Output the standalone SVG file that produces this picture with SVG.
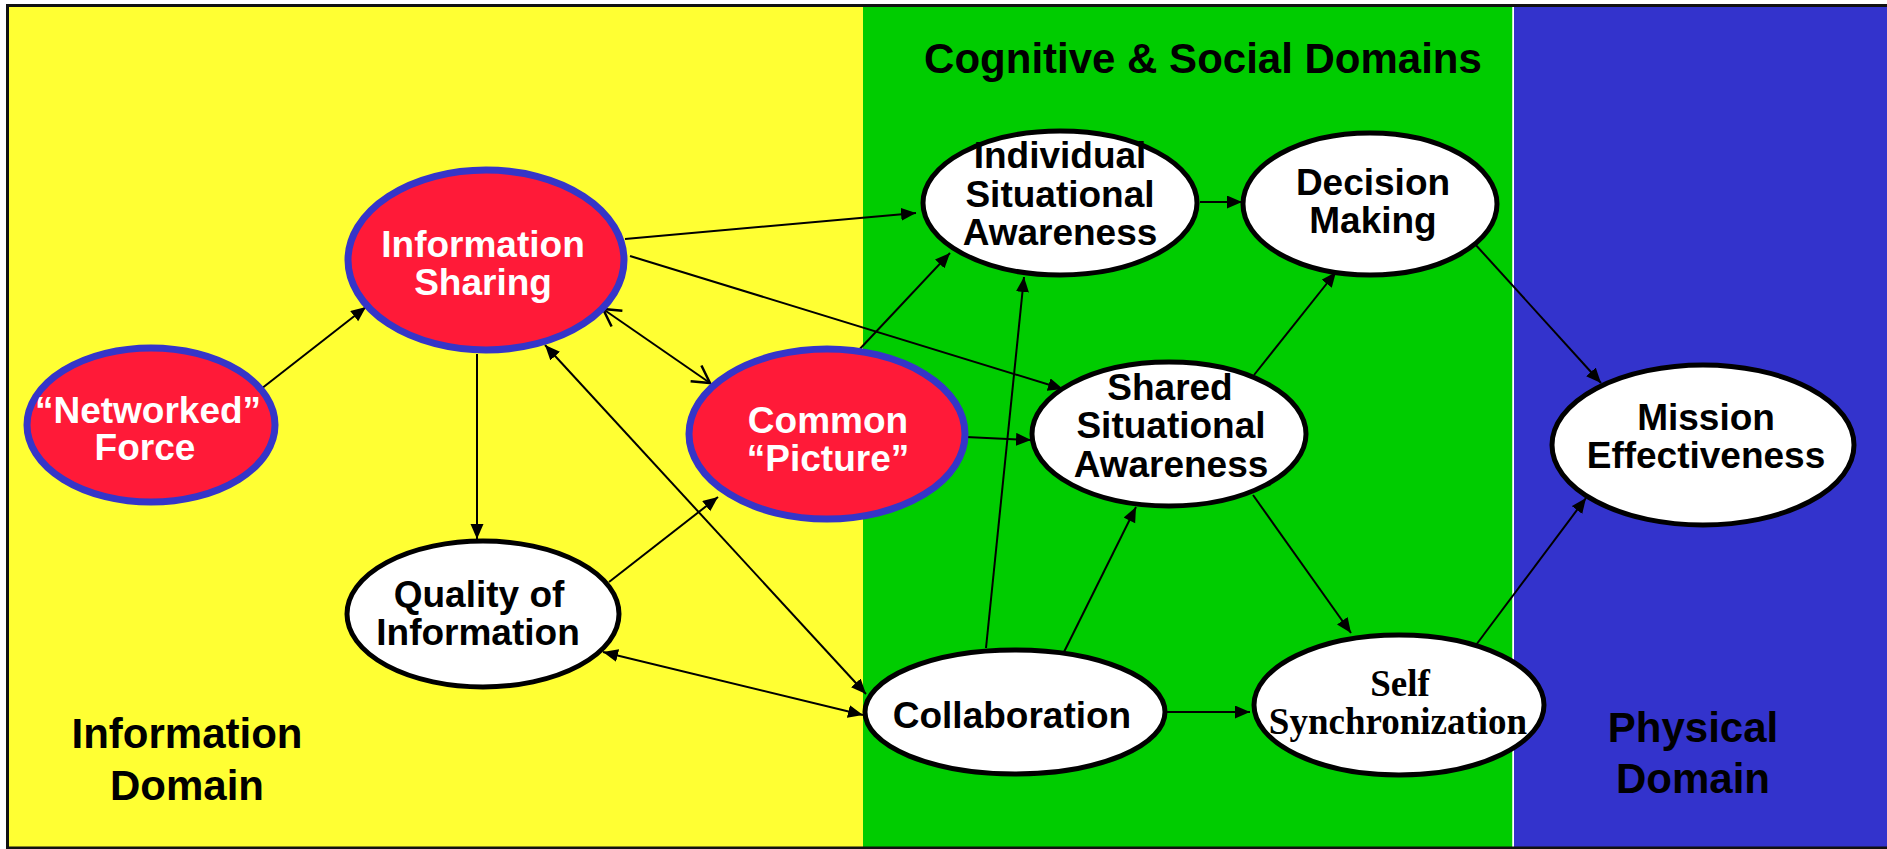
<svg xmlns="http://www.w3.org/2000/svg" width="1887" height="849" viewBox="0 0 1887 849">
<style>
.red{fill:#FF1A38;stroke:#3535C8;stroke-width:7}
.wht{fill:#FFFFFF;stroke:#000000;stroke-width:5}
.t{font-family:"Liberation Sans",Arial,sans-serif;font-weight:bold;font-size:37px;text-anchor:middle}
.tw{fill:#FFFFFF}
.tb{fill:#000000}
.ts{font-family:"Liberation Serif","Times New Roman",serif;font-weight:bold;font-size:37px;text-anchor:middle;fill:#000}
.dom{font-family:"Liberation Sans",Arial,sans-serif;font-weight:bold;font-size:42px;text-anchor:middle;fill:#000}
.ln{stroke:#000;stroke-width:2;fill:none}
.a{marker-end:url(#ah)}
.d{marker-start:url(#ah);marker-end:url(#ah)}
.o{marker-start:url(#oh);marker-end:url(#oh)}
</style>
<defs>
<marker id="ah" markerUnits="userSpaceOnUse" markerWidth="16" markerHeight="14" refX="15" refY="6.5" orient="auto-start-reverse">
<path d="M0,0 L15,6.5 L0,13 z" fill="#000"/>
</marker>
<marker id="oh" markerUnits="userSpaceOnUse" markerWidth="22" markerHeight="24" refX="18" refY="10.5" orient="auto-start-reverse">
<path d="M1,1 L18,10.5 L1,20" fill="none" stroke="#000" stroke-width="2.5"/>
</marker>
</defs>
<g id="background">
<rect x="0" y="0" width="1887" height="849" fill="#FFFFFF"/>
<rect x="8" y="6" width="856" height="842" fill="#FFFF33"/>
<rect x="863" y="6" width="650" height="842" fill="#00CC00"/>
<rect x="1514" y="6" width="373" height="842" fill="#3333CC"/>
<line x1="1513" y1="6" x2="1513" y2="848" stroke="#FFFFFF" stroke-width="1.5"/>
<line x1="6" y1="5.5" x2="1887" y2="5.5" stroke="#111" stroke-width="3"/>
<line x1="7.5" y1="4" x2="7.5" y2="849" stroke="#111" stroke-width="3"/>
<line x1="6" y1="848" x2="1887" y2="848" stroke="#111" stroke-width="3"/>
</g>
<g id="domain-labels">
<text class="dom" x="1203" y="73">Cognitive &amp; Social Domains</text>
<text class="dom" x="187" y="748">Information</text>
<text class="dom" x="187" y="800">Domain</text>
<text class="dom" x="1693" y="742">Physical</text>
<text class="dom" x="1693" y="793">Domain</text>
</g>
<g id="connectors">
<line class="ln a" x1="261" y1="389" x2="366" y2="307"/>
<line class="ln a" x1="625" y1="239" x2="916" y2="213"/>
<line class="ln a" x1="630" y1="256" x2="1063" y2="389"/>
<line class="ln o" x1="603" y1="309" x2="710" y2="383"/>
<line class="ln a" x1="477" y1="354" x2="477" y2="539"/>
<line class="ln d" x1="545" y1="345" x2="866" y2="694"/>
<line class="ln a" x1="609" y1="582" x2="718" y2="497"/>
<line class="ln d" x1="603" y1="652" x2="863" y2="715"/>
<line class="ln a" x1="857" y1="352" x2="950" y2="253"/>
<line class="ln a" x1="966" y1="437" x2="1031" y2="440"/>
<line class="ln a" x1="986" y1="648" x2="1024" y2="277"/>
<line class="ln a" x1="1064" y1="652" x2="1136" y2="507"/>
<line class="ln a" x1="1163" y1="712" x2="1250" y2="712"/>
<line class="ln a" x1="1200" y1="202" x2="1242" y2="202"/>
<line class="ln a" x1="1254" y1="375" x2="1336" y2="272"/>
<line class="ln a" x1="1253" y1="495" x2="1351" y2="633"/>
<line class="ln a" x1="1474" y1="243" x2="1601" y2="383"/>
<line class="ln a" x1="1476" y1="645" x2="1586" y2="498"/>
</g>
<g id="networked-force">
<ellipse class="red" cx="151" cy="425" rx="124" ry="77"/>
<text class="t tw" x="148" y="423">“Networked”</text>
<text class="t tw" x="145" y="460">Force</text>
</g>
<g id="information-sharing">
<ellipse class="red" cx="486" cy="260" rx="138" ry="90"/>
<text class="t tw" x="483" y="257">Information</text>
<text class="t tw" x="483" y="295">Sharing</text>
</g>
<g id="common-picture">
<ellipse class="red" cx="827" cy="434" rx="138" ry="85"/>
<text class="t tw" x="828" y="433">Common</text>
<text class="t tw" x="828" y="471">“Picture”</text>
</g>
<g id="quality-of-information">
<ellipse class="wht" cx="483" cy="614" rx="136" ry="73"/>
<text class="t tb" x="479" y="607">Quality of</text>
<text class="t tb" x="478" y="645">Information</text>
</g>
<g id="individual-sa">
<ellipse class="wht" cx="1060" cy="203" rx="137" ry="72"/>
<text class="t tb" x="1060" y="168">Individual</text>
<text class="t tb" x="1060" y="207">Situational</text>
<text class="t tb" x="1060" y="245">Awareness</text>
</g>
<g id="decision-making">
<ellipse class="wht" cx="1370" cy="204" rx="127" ry="71"/>
<text class="t tb" x="1373" y="195">Decision</text>
<text class="t tb" x="1373" y="233">Making</text>
</g>
<g id="shared-sa">
<ellipse class="wht" cx="1169" cy="434" rx="137" ry="72"/>
<text class="t tb" x="1170" y="400">Shared</text>
<text class="t tb" x="1171" y="438">Situational</text>
<text class="t tb" x="1171" y="477">Awareness</text>
</g>
<g id="collaboration">
<ellipse class="wht" cx="1015" cy="712" rx="150" ry="62"/>
<text class="t tb" x="1012" y="728">Collaboration</text>
</g>
<g id="self-synchronization">
<ellipse class="wht" cx="1399" cy="705" rx="145" ry="70"/>
<text class="ts" x="1400" y="696">Self</text>
<text class="ts" x="1398" y="734">Synchronization</text>
</g>
<g id="mission-effectiveness">
<ellipse class="wht" cx="1703" cy="445" rx="151" ry="80"/>
<text class="t tb" x="1706" y="430">Mission</text>
<text class="t tb" x="1706" y="468">Effectiveness</text>
</g>
</svg>
